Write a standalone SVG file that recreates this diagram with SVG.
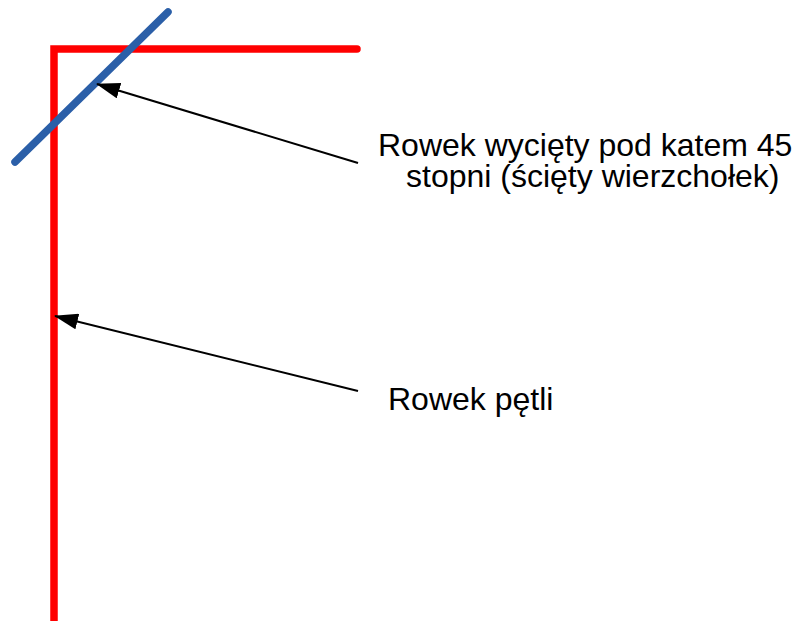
<svg xmlns="http://www.w3.org/2000/svg" width="798" height="621" viewBox="0 0 798 621">
  <defs>
    <marker id="arrowhead" markerWidth="24" markerHeight="16" refX="23" refY="8" orient="auto" markerUnits="userSpaceOnUse">
      <path d="M0,0 L24,8 L0,16 Z" fill="#000"/>
    </marker>
    <style>
      .loop { fill: none; stroke: #ff0000; stroke-width: 7.5; stroke-linecap: round; stroke-linejoin: miter; }
      .cut { fill: none; stroke: #2b5fa8; stroke-width: 7.5; stroke-linecap: round; }
      .leader { fill: none; stroke: #000; stroke-width: 2; marker-end: url(#arrowhead); }
      .label { font-family: "Liberation Sans", Arial, sans-serif; font-size: 32px; fill: #000; }
    </style>
  </defs>
  <rect width="798" height="621" fill="#fff"/>

  <!-- loop groove (red) -->
  <g id="loop-groove">
    <path class="loop" d="M54,625 L54,49 L357,49"/>
  </g>

  <!-- 45 degree cut (blue) -->
  <g id="cut-groove">
    <line class="cut" x1="15" y1="162" x2="168" y2="12"/>
  </g>

  <!-- leader lines -->
  <g id="connectors">
    <line class="leader" x1="358" y1="163" x2="97" y2="84"/>
    <line class="leader" x1="358" y1="391" x2="55" y2="316"/>
  </g>

  <g id="label-cut">
    <text class="label" x="378" y="156">Rowek wycięty pod katem 45</text>
    <text class="label" x="406" y="187">stopni (ścięty wierzchołek)</text>
  </g>

  <g id="label-loop">
    <text class="label" x="388" y="410">Rowek pętli</text>
  </g>
</svg>
